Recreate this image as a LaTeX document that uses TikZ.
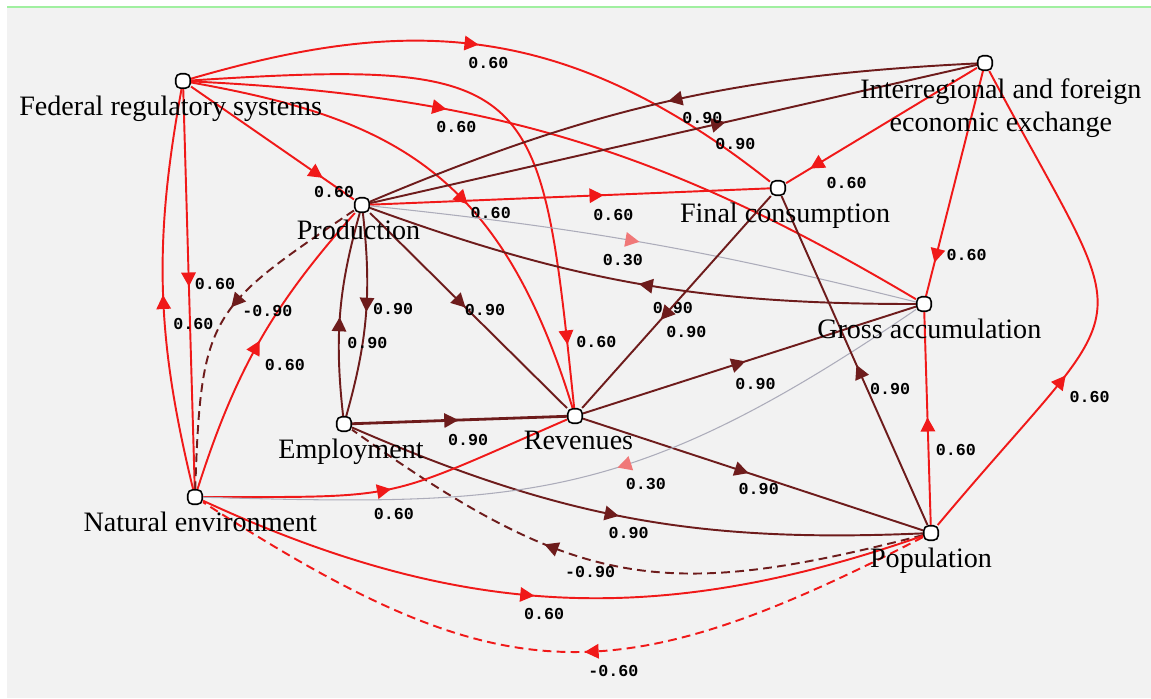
\documentclass[tikz,border=0pt]{standalone}
\usepackage{fontspec}
\setmainfont{Liberation Serif}
\newfontfamily\numfont{Liberation Mono}
\usetikzlibrary{positioning,shapes.geometric}

\definecolor{linkred}{RGB}{240,25,25}
\definecolor{linkdark}{RGB}{110,28,28}
\definecolor{linkgray}{RGB}{172,172,186}
\definecolor{tippink}{RGB}{240,120,120}
\definecolor{paper}{RGB}{242,242,242}
\definecolor{rule}{RGB}{160,240,160}

\tikzset{
    vert/.style={draw, line width=0.9pt, fill=white, rounded corners=2.8pt, minimum size=0.29cm, inner sep=0pt},
    nodetext/.style={font=\fontsize{16}{19}\selectfont, inner sep=0pt, align=center},
    redlink/.style={draw=linkred, line width=1.1pt},
    darklink/.style={draw=linkdark, line width=1.1pt},
    graylink/.style={draw=linkgray, line width=0.6pt},
    neglink/.style={dash pattern=on 5pt off 3pt},
    midtip/.style={isosceles triangle, isosceles triangle stretches, fill=#1, inner sep=0pt,
        minimum width=8.5pt, minimum height=8pt, sloped, allow upside down},
    lbl/.style={font=\numfont\bfseries\fontsize{9.5}{11}\selectfont, inner sep=0pt, xshift=11pt, yshift=-11pt}
}

\begin{document}
\begin{tikzpicture}[x=0.02cm, y=-0.02cm]
    \useasboundingbox (0,0) rectangle (1151,698);
    \fill[white] (0,0) rectangle (1151,698);
    \fill[paper] (7,7) rectangle (1151,698);
    \draw[rule, line width=1pt] (7,7) -- (1151,7);

    % Vertices
    \node[vert] (fed) at (183,81) {};
    \node[vert] (prod) at (362,205) {};
    \node[vert] (inter) at (985,63) {};
    \node[vert] (fin) at (778,188) {};
    \node[vert] (gross) at (924,304) {};
    \node[vert] (empl) at (344,424) {};
    \node[vert] (rev) at (575,416) {};
    \node[vert] (nat) at (195,497) {};
    \node[vert] (pop) at (931,533) {};

    % From federal regulatory systems
    \draw[redlink] (fed) .. controls (400,18) and (560,15) .. (fin)
        node[midtip=linkred, pos=.48] {} node[lbl, pos=.48] {0.60};
    \draw[redlink] (fed) .. controls (540,58) and (540,80) .. (rev)
        node[midtip=linkred, pos=.92] {} node[lbl, pos=.92, xshift=6pt, yshift=7pt] {0.60};
    \draw[redlink] (fed) to[bend left=14]
        node[midtip=linkred, pos=.31] {} node[lbl, pos=.31] {0.60} (gross);
    \draw[redlink] (fed) .. controls (390,118) and (500,170) .. (rev)
        node[midtip=linkred, pos=.59] {} node[lbl, pos=.59, xshift=6pt, yshift=2pt] {0.60};
    \draw[redlink] (fed) -- node[midtip=linkred, pos=.76] {} node[lbl, pos=.76] {0.60} (prod);
    \draw[redlink] (fed) -- node[midtip=linkred, pos=.47] {} node[lbl, pos=.47, xshift=4pt, yshift=7pt] {0.60} (nat);
    \draw[redlink] (nat) to[bend left=12]
        node[midtip=linkred, pos=.46] {} node[lbl, pos=.46, xshift=6pt] {0.60} (fed);

    % From production
    \draw[darklink] (prod) -- node[midtip=linkdark, pos=.57] {} node[lbl, pos=.57] {0.90} (inter);
    \draw[darklink] (inter) to[bend right=10]
        node[midtip=linkdark, pos=.48] {} node[lbl, pos=.48, xshift=3pt] {0.90} (prod);
    \draw[redlink] (prod) -- node[midtip=linkred, pos=.56] {} node[lbl, pos=.56] {0.60} (fin);
    \draw[graylink] (prod) to[bend left=4]
        node[midtip=tippink, pos=.47] {} node[lbl, pos=.47, xshift=-15pt] {0.30} (gross);
    \draw[darklink] (gross) to[bend left=10]
        node[midtip=linkdark, pos=.48] {} node[lbl, pos=.48, xshift=3pt, yshift=-2pt] {0.90} (prod);
    \draw[darklink] (prod) to[bend left=11]
        node[midtip=linkdark, pos=.43] {} node[lbl, pos=.43, xshift=4pt, yshift=7pt] {0.90} (empl);
    \draw[darklink] (empl) to[bend left=11]
        node[midtip=linkdark, pos=.43] {} node[lbl, pos=.43, xshift=5pt, yshift=2pt] {0.90} (prod);
    \draw[darklink] (prod) -- node[midtip=linkdark, pos=.45] {} node[lbl, pos=.45, xshift=4pt, yshift=6pt] {0.90} (rev);
    \draw[redlink] (nat) to[bend left=12]
        node[midtip=linkred, pos=.47] {} node[lbl, pos=.47, xshift=6pt, yshift=2pt] {0.60} (prod);
    \draw[darklink, neglink] (prod) .. controls (210,308) and (201,313) .. (nat)
        node[midtip=linkdark, pos=.4] {} node[lbl, pos=.4, xshift=6pt, yshift=5pt] {-0.90};

    % From employment
    \draw[darklink, line width=1.6pt] (empl) -- node[midtip=linkdark, pos=.45] {} node[lbl, pos=.45] {0.90} (rev);
    \draw[darklink] (empl) to[bend right=13]
        node[midtip=linkdark, pos=.46] {} node[lbl, pos=.46] {0.90} (pop);
    \draw[darklink, neglink] (pop) to[bend left=25, looseness=1.2]
        node[midtip=linkdark, pos=.64] {} node[lbl, pos=.64, xshift=10pt, yshift=-3pt] {-0.90} (empl);

    % From revenues, final consumption, gross accumulation
    \draw[darklink] (rev) -- node[midtip=linkdark, pos=.46] {} node[lbl, pos=.46] {0.90} (gross);
    \draw[darklink] (rev) -- node[midtip=linkdark, pos=.46] {} node[lbl, pos=.46] {0.90} (pop);
    \draw[redlink] (nat) .. controls (408,497) and (380,501) .. (rev)
        node[midtip=linkred, pos=.46] {} node[lbl, pos=.46, xshift=-4pt, yshift=-2pt] {0.60};
    \draw[graylink] (gross) .. controls (630,505) and (520,506) .. (nat)
        node[midtip=tippink, pos=.41] {} node[lbl, pos=.41] {0.30};
    \draw[darklink] (fin) -- node[midtip=linkdark, pos=.55] {} node[lbl, pos=.55] {0.90} (rev);
    \draw[darklink] (pop) -- node[midtip=linkdark, pos=.46] {} node[lbl, pos=.46, xshift=6pt, yshift=2pt] {0.90} (fin);

    % From interregional exchange and population
    \draw[redlink] (inter) -- node[midtip=linkred, pos=.83] {} node[lbl, pos=.83, xshift=5pt] {0.60} (fin);
    \draw[redlink] (inter) -- node[midtip=linkred, pos=.81] {} node[lbl, pos=.81, xshift=6pt, yshift=10pt] {0.60} (gross);
    \draw[redlink] (pop) -- node[midtip=linkred, pos=.46] {} node[lbl, pos=.46, xshift=5pt, yshift=-2pt] {0.60} (gross);
    \draw[redlink] (pop) .. controls (1143,280) and (1140,354) .. (inter)
        node[midtip=linkred, pos=.27] {} node[lbl, pos=.27, xshift=6pt, yshift=3pt] {0.60};
    \draw[redlink] (nat) to[bend right=22]
        node[midtip=linkred, pos=.45] {} node[lbl, pos=.45] {0.60} (pop);
    \draw[redlink, neglink] (pop) to[bend left=30, looseness=1.25]
        node[midtip=linkred, pos=.44] {} node[lbl, pos=.44] {-0.60} (nat);

    % Vertex names
    \node[nodetext, below=4pt of fed, xshift=-7pt] (fed-t) {Federal regulatory systems};
    \node[nodetext, below=4pt of prod, xshift=-2pt] (prod-t) {Production};
    \node[nodetext, below=4pt of inter, xshift=9pt] (inter-t) {Interregional and foreign\\economic exchange};
    \node[nodetext, below=4pt of fin, xshift=4pt] (fin-t) {Final consumption};
    \node[nodetext, below=4pt of gross, xshift=3pt] (gross-t) {Gross accumulation};
    \node[nodetext, below=4pt of empl, xshift=4pt] (empl-t) {Employment};
    \node[nodetext, below=4pt of rev, xshift=2pt] (rev-t) {Revenues};
    \node[nodetext, below=4pt of nat, xshift=3pt] (nat-t) {Natural environment};
    \node[nodetext, below=4pt of pop] (pop-t) {Population};
\end{tikzpicture}
\end{document}
